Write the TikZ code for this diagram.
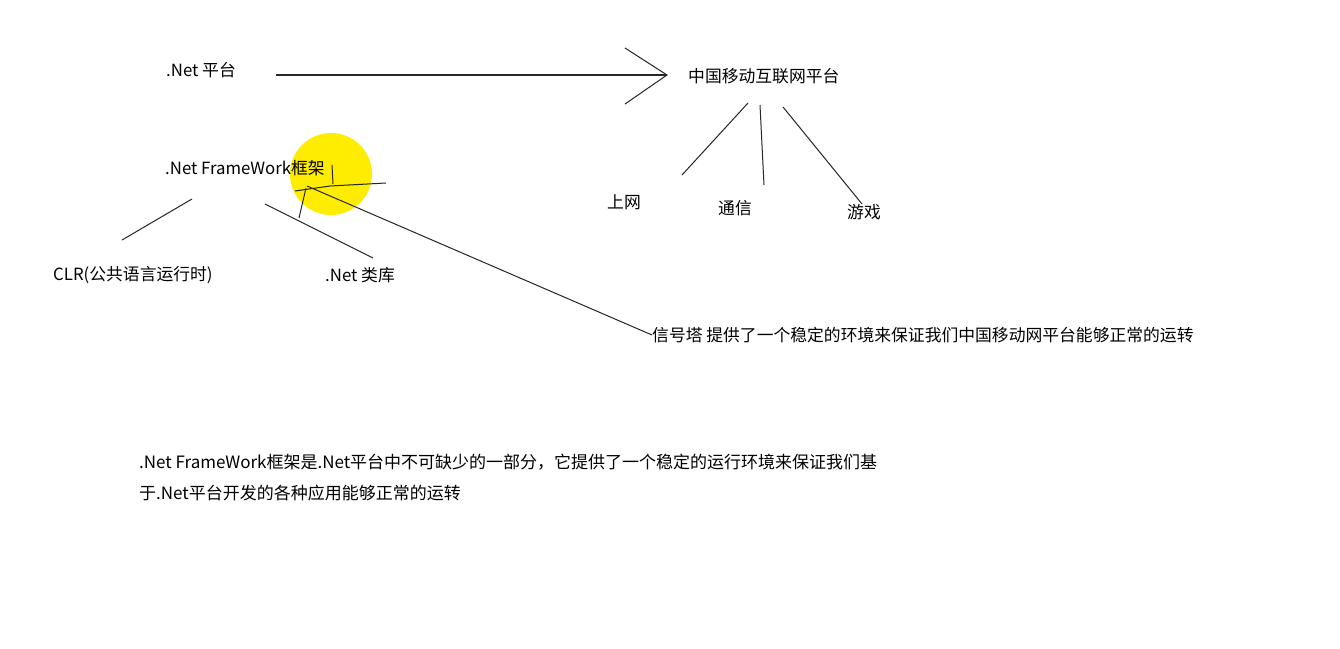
\documentclass[tikz,border=0pt]{standalone}
\usepackage{fontspec}
\setmainfont{Noto Sans CJK SC}
\begin{document}
\begin{tikzpicture}[x=1pt,y=-1pt,
  lbl/.style={anchor=west,inner sep=0pt,font=\fontsize{16.8}{20}\selectfont},
  ln/.style={line width=1pt,black!85}]
\useasboundingbox[fill=white] (0,0) rectangle (1340,648);
\fill[yellow!95!orange] (331,174) circle (41);
\node[lbl] (net) at (166,70) {.Net 平台};
\node[lbl] (cm) at (688,76) {中国移动互联网平台};
\node[lbl] (fw) at (165,168) {.Net FrameWork框架};
\node[lbl] (clr) at (53,275) {CLR(公共语言运行时)};
\node[lbl] (lib) at (325,275) {.Net 类库};
\node[lbl] (sw) at (607,202) {上网};
\node[lbl] (tx) at (718,208) {通信};
\node[lbl] (yx) at (847,212) {游戏};
\node[lbl] (sig) at (652,335) {信号塔 提供了一个稳定的环境来保证我们中国移动网平台能够正常的运转};
\node[lbl,anchor=north west,align=left,font=\fontsize{17}{31}\selectfont] (desc) at (139,454)
  {.Net FrameWork框架是.Net平台中不可缺少的一部分，它提供了一个稳定的运行环境来保证我们基\\于.Net平台开发的各种应用能够正常的运转};
% arrow
\coordinate (a0) at (276,75);
\coordinate (a1) at (667,75);
\coordinate (h1) at (625,48);
\coordinate (h2) at (625,104);
\draw[line width=1.6pt,black!85] (a0) -- (a1);
\draw[ln] (h1) -- (a1) -- (h2);
% framework lines
\coordinate (c1) at (192,199); \coordinate (c2) at (122,240);
\coordinate (l1) at (265,204); \coordinate (l2) at (373,258);
\draw[ln] (c1) -- (c2);
\draw[ln] (l1) -- (l2);
% mobile lines
\coordinate (m1a) at (748,103); \coordinate (m1b) at (682,175);
\coordinate (m2a) at (760,105); \coordinate (m2b) at (764,185);
\coordinate (m3a) at (783,107); \coordinate (m3b) at (862,204);
\draw[ln] (m1a) -- (m1b);
\draw[ln] (m2a) -- (m2b);
\draw[ln] (m3a) -- (m3b);
% scribbles inside circle
\coordinate (s0) at (307,186);
\draw[ln] (s0) -- (sig.west);
\draw[ln] (295,191) -- (330,186) -- (386,183);
\draw[ln] (332,165) -- (333,184);
\draw[ln] (299,218) -- (306,188);
\end{tikzpicture}
\end{document}
